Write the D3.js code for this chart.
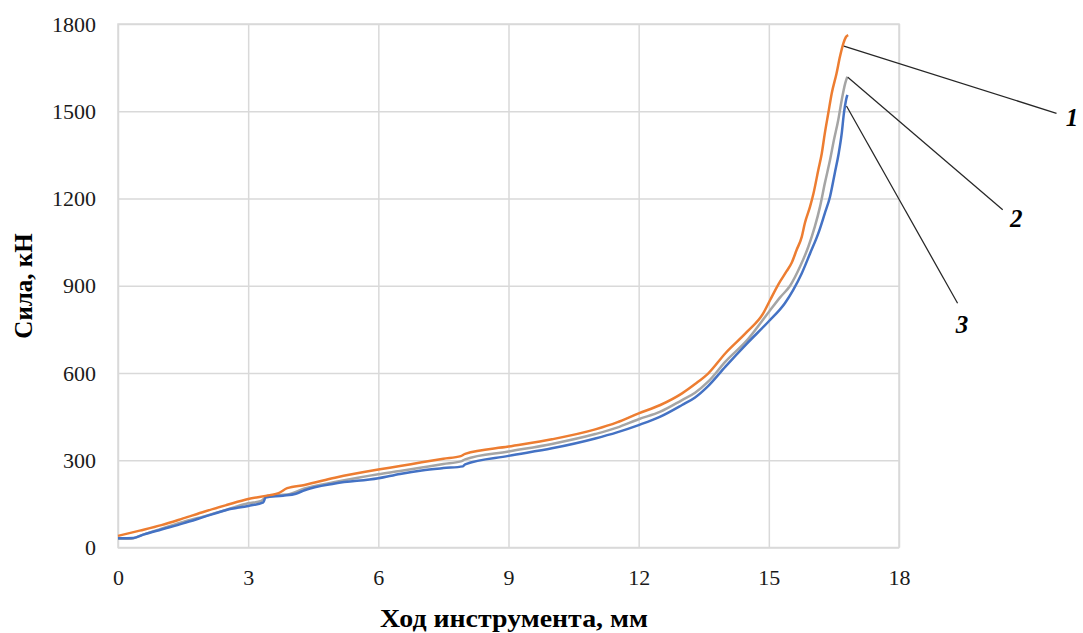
<!DOCTYPE html>
<html>
<head>
<meta charset="utf-8">
<script src="https://cdn.jsdelivr.net/npm/d3@7"></script>
<style>
  body { margin: 0; background: #fff; }
  svg text { font-family: "Liberation Serif", "Times New Roman", serif; }
</style>
</head>
<body>
<div id="chart"></div>
<script>
// data: [stroke mm, force kN]
var series1 = [[0,40],[0.5,58],[1,77],[1.5,100],[2,124],[2.5,146],[3,167],[3.5,180],[3.7,187],[3.9,204],[4.3,215],[5,240],[6,268],[6.5,280],[7,293],[7.5,305],[7.9,314],[8,322],[9,347],[10,372],[11,406],[11.5,430],[12,461],[12.5,490],[13,530],[13.3,562],[13.6,598],[14,668],[14.5,742],[14.87,805],[15.03,851],[15.22,905],[15.41,950],[15.53,980],[15.64,1023],[15.76,1069],[15.83,1115],[15.95,1172],[16.03,1218],[16.14,1298],[16.22,1355],[16.29,1424],[16.37,1493],[16.45,1562],[16.56,1630],[16.64,1688],[16.72,1734],[16.78,1756],[16.83,1762]];
var series2 = [[0,30],[0.3,30],[0.5,40],[1,65],[1.5,88],[2,108],[2.5,130],[3,152],[3.3,160],[3.45,178],[3.9,182],[4.3,203],[5,225],[6,252],[6.5,263],[7,275],[7.5,287],[7.9,296],[8,303],[9,330],[10,356],[11,390],[11.5,412],[12,441],[12.5,467],[13,507],[13.3,532],[13.6,570],[14,639],[14.5,713],[15,810],[15.26,860],[15.49,900],[15.72,966],[15.91,1034],[16.06,1103],[16.18,1172],[16.29,1252],[16.41,1332],[16.5,1401],[16.6,1470],[16.68,1539],[16.76,1596],[16.81,1619]];
var series3 = [[0,32],[0.35,33],[0.6,45],[1,62],[1.5,83],[2,106],[2.5,129],[3,143],[3.35,155],[3.4,172],[3.8,178],[4.1,185],[4.3,197],[5,220],[6,238],[6.5,253],[7,265],[7.5,273],[7.95,279],[8,286],[9,315],[10,341],[11,375],[11.5,396],[12,421],[12.5,450],[13,490],[13.3,516],[13.6,555],[14,622],[14.5,702],[15,778],[15.37,840],[15.56,885],[15.76,943],[15.95,1011],[16.14,1080],[16.29,1149],[16.41,1206],[16.52,1287],[16.61,1355],[16.68,1424],[16.73,1493],[16.78,1539],[16.81,1556]];

var xTicks = [0, 3, 6, 9, 12, 15, 18];
var yTicks = [0, 300, 600, 900, 1200, 1500, 1800];

// curve labels, leader lines from curve tip to label (data units)
var labelNames = ["1", "2", "3"];
var leaderFrom = [[16.73, 1724], [16.82, 1617], [16.79, 1518]];
var leaderTo = [[21.63, 1493], [20.39, 1161], [19.35, 840]];
var labelAt = [[21.99, 1449], [20.70, 1102], [19.45, 738]];

var svgWidth = 1083;
var svgHeight = 633;

var margin = { top: 24, right: 184, bottom: 85.5, left: 118 };
var width = svgWidth - margin.left - margin.right;
var height = svgHeight - margin.top - margin.bottom;

var svg = d3.select("#chart")
  .append("svg")
  .attr("width", svgWidth)
  .attr("height", svgHeight);

var chartGroup = svg.append("g")
  .attr("transform", `translate(${margin.left}, ${margin.top})`);

var xScale = d3.scaleLinear().domain([0, 18]).range([0, width]);
var yScale = d3.scaleLinear().domain([0, 1800]).range([height, 0]);

// grid
chartGroup.append("g")
  .attr("class", "grid")
  .attr("transform", `translate(0, ${height})`)
  .call(d3.axisBottom(xScale).tickValues(xTicks).tickSize(-height).tickFormat(""))
  .call(g => g.select(".domain").remove());

chartGroup.append("g")
  .attr("class", "grid")
  .call(d3.axisLeft(yScale).tickValues(yTicks).tickSize(-width).tickFormat(""))
  .call(g => g.select(".domain").remove());

chartGroup.selectAll(".grid line")
  .attr("stroke", "#d9d9d9")
  .attr("stroke-width", 1.5);

chartGroup.append("rect")
  .attr("width", width)
  .attr("height", height)
  .attr("fill", "none")
  .attr("stroke", "#d9d9d9")
  .attr("stroke-width", 1.5);

// tick labels
var fmt = d3.format("d");
var xAxis = chartGroup.append("g")
  .attr("transform", `translate(0, ${height})`)
  .call(d3.axisBottom(xScale).tickValues(xTicks).tickFormat(fmt).tickSize(0).tickPadding(22));
var yAxis = chartGroup.append("g")
  .call(d3.axisLeft(yScale).tickValues(yTicks).tickFormat(fmt).tickSize(0).tickPadding(22));

[xAxis, yAxis].forEach(function(ax) {
  ax.attr("font-family", "'Liberation Serif', serif")
    .attr("font-size", 22);
  ax.select(".domain").remove();
  ax.selectAll("text").attr("fill", "#1a1a1a");
});

// lines
var line = d3.line()
  .x(d => xScale(d[0]))
  .y(d => yScale(d[1]))
  .curve(d3.curveMonotoneX);

var lines = [
  { data: series2, color: "#a5a5a5" },
  { data: series3, color: "#4472c4" },
  { data: series1, color: "#ed7d31" }
];

lines.forEach(function(s) {
  chartGroup.append("path")
    .datum(s.data)
    .attr("fill", "none")
    .attr("stroke", s.color)
    .attr("stroke-width", 2.5)
    .attr("stroke-linejoin", "round")
    .attr("d", line);
});

// leader lines and labels
labelNames.forEach(function(name, i) {
  chartGroup.append("line")
    .attr("x1", xScale(leaderFrom[i][0]))
    .attr("y1", yScale(leaderFrom[i][1]))
    .attr("x2", xScale(leaderTo[i][0]))
    .attr("y2", yScale(leaderTo[i][1]))
    .attr("stroke", "#262626")
    .attr("stroke-width", 1.25);

  chartGroup.append("text")
    .attr("x", xScale(labelAt[i][0]))
    .attr("y", yScale(labelAt[i][1]))
    .attr("text-anchor", "middle")
    .style("font-size", "25px")
    .style("font-weight", "bold")
    .style("font-style", "italic")
    .text(name);
});

// axis titles
svg.append("text")
  .attr("transform", "translate(32, 286) rotate(-90)")
  .attr("text-anchor", "middle")
  .style("font-size", "25px")
  .style("font-weight", "bold")
  .text("Сила, кН");

svg.append("text")
  .attr("x", 380)
  .attr("y", 627)
  .attr("textLength", 268)
  .attr("lengthAdjust", "spacingAndGlyphs")
  .style("font-size", "25px")
  .style("font-weight", "bold")
  .text("Ход инструмента, мм");
</script>
</body>
</html>
